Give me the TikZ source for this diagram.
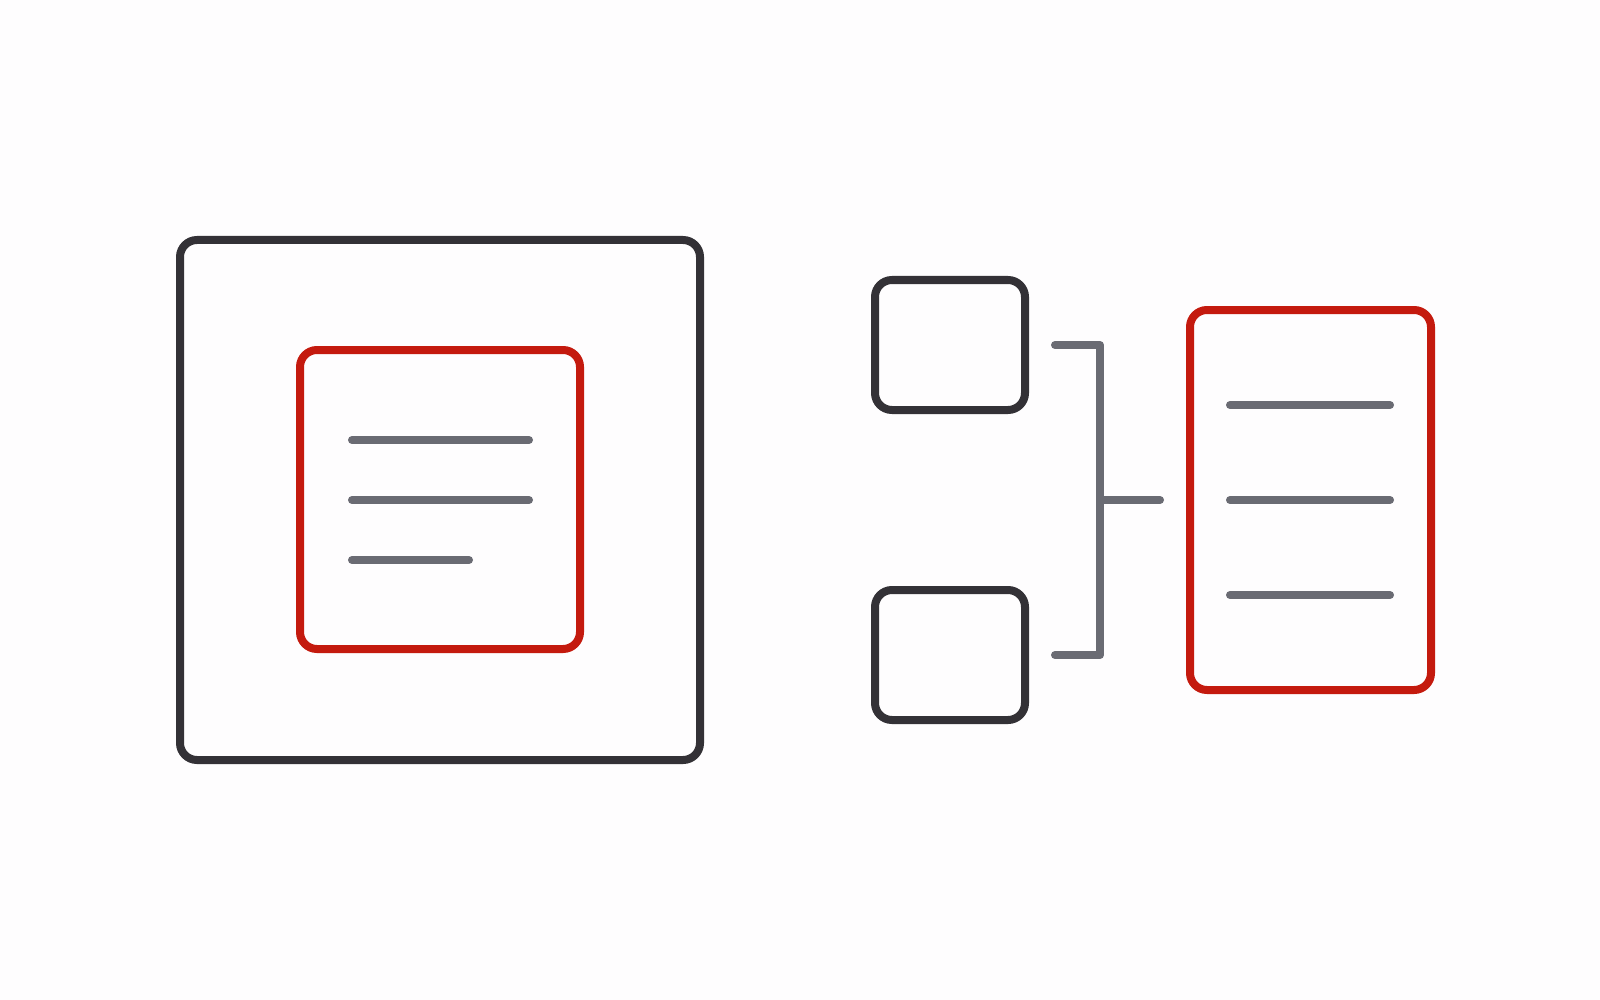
\documentclass[tikz,border=0pt]{standalone}
\usetikzlibrary{calc}
\definecolor{bgc}{HTML}{FEFDFE}
\definecolor{darkc}{HTML}{333136}
\definecolor{redc}{HTML}{C41A0E}
\definecolor{grayc}{HTML}{6A6B73}
\tikzset{
  box/.style={draw=darkc, line width=8pt, rounded corners=17pt, inner sep=0pt, fill=none},
  redbox/.style={draw=redc, line width=8pt, rounded corners=17pt, inner sep=0pt, fill=none},
  textline/.style={draw=grayc, line width=8pt, line cap=round},
  bracket/.style={draw=grayc, line width=8pt, line cap=round, line join=round}
}
\begin{document}
\begin{tikzpicture}[x=1pt,y=-1pt]
\fill[bgc] (0,0) rectangle (1600,1000);
\useasboundingbox (0,0) rectangle (1600,1000);
% left
\node[box, minimum width=520pt, minimum height=520pt] (outer) at (440,500) {};
\node[redbox, minimum width=280pt, minimum height=299pt] (inner) at (440,499.5) {};
\coordinate (l1a) at (352,440); \coordinate (l1b) at (529,440);
\coordinate (l2a) at (352,500); \coordinate (l2b) at (529,500);
\coordinate (l3a) at (352,560); \coordinate (l3b) at (469,560);
\draw[textline] (l1a) -- (l1b);
\draw[textline] (l2a) -- (l2b);
\draw[textline] (l3a) -- (l3b);
% right
\node[box, minimum width=150pt, minimum height=130pt] (top) at (950,345) {};
\node[box, minimum width=150pt, minimum height=130pt] (bot) at (950,655) {};
\node[redbox, minimum width=241pt, minimum height=380pt] (doc) at (1310.5,500) {};
\coordinate (bt) at ($(top.east)+(26,0)$);
\coordinate (bb) at ($(bot.east)+(26,0)$);
\coordinate (bm) at (1100,500);
\coordinate (be) at ($(doc.west)+(-26,0)$);
\draw[bracket] (bt) -- (1100,345) -- (1100,655) -- (bb);
\draw[bracket] (bm) -- (be);
\coordinate (r1a) at (1230,405); \coordinate (r1b) at (1390,405);
\coordinate (r2a) at (1230,500); \coordinate (r2b) at (1390,500);
\coordinate (r3a) at (1230,595); \coordinate (r3b) at (1390,595);
\draw[textline] (r1a) -- (r1b);
\draw[textline] (r2a) -- (r2b);
\draw[textline] (r3a) -- (r3b);
\end{tikzpicture}
\end{document}
